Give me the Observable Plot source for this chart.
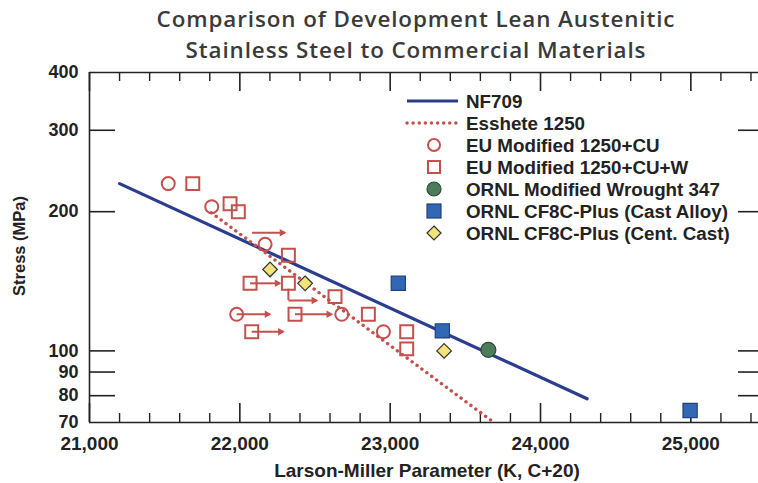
<!DOCTYPE html>
<html><head><meta charset="utf-8">
<script src="https://cdn.jsdelivr.net/npm/d3@7"></script>
<script src="https://cdn.jsdelivr.net/npm/@observablehq/plot@0.6"></script>
<style>body{margin:0;background:#fff;} svg{display:block;}</style>
</head><body><div id="chart"></div>
<script>
// ---- data ----
const titleLines = ["Comparison of Development Lean Austenitic", "Stainless Steel to Commercial Materials"];
const xLabel = "Larson-Miller Parameter (K, C+20)";
const yLabel = "Stress (MPa)";
const xTickLabels = [21000, 22000, 23000, 24000, 25000];
const xMinorTicks = [21200,21400,21600,21800,22200,22400,22600,22800,23200,23400,23600,23800,24200,24400,24600,24800,25200,25400];
const yTickLabels = [70, 80, 90, 100, 200, 300, 400];
const yInnerTicks = [80, 90, 100, 200, 300];

const nf709X = [21200, 24310];
const nf709Y = [230, 78.8];
const essheteX = [21810, 23690];
const essheteY = [199, 70];

const euCuX = [21524, 21813, 22168, 21979, 22678, 22955];
const euCuY = [230, 205, 170, 120, 120, 110];
const euCuWX = [21687, 21935, 21990, 22323, 22068, 22323, 22633, 22367, 22855, 22079, 23110, 23110];
const euCuWY = [230, 208, 200, 161, 140, 140, 131, 120, 120, 110, 110, 101];
const ornl347X = [23653];
const ornl347Y = [100.5];
const castX = [23054, 23347, 24995];
const castY = [140, 110.5, 74.3];
const centX = [22201, 22434, 23359];
const centY = [150, 140, 100];

// run-out arrows
const runX1 = [22081, 21979, 22068, 22367, 22079, 22323];
const runX2 = [22300, 22200, 22267, 22611, 22289, 22512];
const runY  = [180, 120, 140, 120, 110, 128.5];
// bent run-out leg (vertical part)
const bendX = [22323];
const bendY1 = [136];
const bendY2 = [128.5];

const legendLabels = ["NF709", "Esshete 1250", "EU Modified 1250+CU", "EU Modified 1250+CU+W",
  "ORNL Modified Wrought 347", "ORNL CF8C-Plus (Cast Alloy)", "ORNL CF8C-Plus (Cent. Cast)"];

// ---- styles ----
const BLUE = "#2b3d8e", RED = "#c4504e";
const FONT = "'Liberation Sans', Arial, sans-serif";
const TFONT = "'Open Sans', sans-serif";

const W = 758, H = 483, mT = 72, mB = 61, mL = 89, mR = 0;
const innerH = H - mT - mB, innerW = W - mL - mR;

const tbl = (xs, ys) => xs.map((x, i) => ({x, y: ys[i]}));
const runs = runX1.map((x1, i) => ({x1, x2: runX2[i], y: runY[i]}));
const bends = bendX.map((x, i) => ({x, y1: bendY1[i], y2: bendY2[i]}));

const plot = Plot.plot({
  width: W, height: H,
  marginTop: mT, marginBottom: mB, marginLeft: mL, marginRight: mR,
  style: {fontFamily: FONT, background: "#fff"},
  x: {domain: [21000, 25450]},
  y: {type: "log", domain: [70, 400]},
  marks: [
    Plot.ruleY([70, 400], {stroke: "#222", strokeWidth: 1.6}),
    Plot.ruleX([21000], {stroke: "#222", strokeWidth: 1.6}),
    Plot.tickX(xTickLabels, {x: d => d, insetTop: innerH - 19, stroke: "#222", strokeWidth: 1.6}),
    Plot.tickX(xTickLabels, {x: d => d, insetBottom: innerH - 19, stroke: "#222", strokeWidth: 1.6}),
    Plot.tickX(xMinorTicks, {x: d => d, insetTop: innerH - 9, stroke: "#222", strokeWidth: 1.4}),
    Plot.tickX(xMinorTicks, {x: d => d, insetBottom: innerH - 9, stroke: "#222", strokeWidth: 1.4}),
    Plot.tickY(yInnerTicks, {y: d => d, insetRight: innerW - 26, stroke: "#222", strokeWidth: 1.6}),
    Plot.tickY(yInnerTicks, {y: d => d, insetLeft: innerW - 20, stroke: "#222", strokeWidth: 1.6}),
    Plot.axisX(xTickLabels, {tickSize: 0, tickPadding: 14, tickFormat: d3.format(","), fontSize: 19, fontWeight: 700, fill: "#222", label: null}),
    Plot.axisY(yTickLabels, {tickSize: 0, tickPadding: 11, tickFormat: d => String(d), fontSize: 18, fontWeight: 700, fill: "#222", label: null}),
    Plot.line(tbl(nf709X, nf709Y), {x: "x", y: "y", stroke: BLUE, strokeWidth: 3.2}),
    Plot.line(tbl(essheteX, essheteY), {x: "x", y: "y", stroke: RED, strokeWidth: 3.4, strokeDasharray: "0.1 6", strokeLinecap: "round"}),
    Plot.ruleX(bends, {x: "x", y1: "y1", y2: "y2", stroke: RED, strokeWidth: 2}),
    Plot.link(runs, {x1: "x1", x2: "x2", y1: "y", y2: "y", stroke: RED, strokeWidth: 2}),
    Plot.dot(runs, {x: "x2", y: "y", symbol: "triangle2", rotate: 90, r: 3.6, fill: RED, dx: -3}),
    Plot.dot(tbl(euCuX, euCuY), {x: "x", y: "y", r: 6.5, stroke: RED, strokeWidth: 2, fill: "none"}),
    Plot.dot(tbl(euCuWX, euCuWY), {x: "x", y: "y", symbol: "square", r: 7.3, stroke: RED, strokeWidth: 2, fill: "none"}),
    Plot.dot(tbl(centX, centY), {x: "x", y: "y", symbol: "diamond2", r: 6.6, stroke: "#333", strokeWidth: 1.2, fill: "#f1e27a"}),
    Plot.dot(tbl(castX, castY), {x: "x", y: "y", symbol: "square", r: 8, stroke: "#23407a", strokeWidth: 1.2, fill: "#3068b6"}),
    Plot.dot(tbl(ornl347X, ornl347Y), {x: "x", y: "y", r: 7.5, stroke: "#2d4a36", strokeWidth: 1.2, fill: "#4d7c5b"})
  ]
});

document.getElementById("chart").appendChild(plot);
const svg = d3.select(plot);

// title
svg.append("g").selectAll("text").data(titleLines).join("text")
  .attr("x", 416).attr("y", (d, i) => 27 + i * 30.5)
  .attr("text-anchor", "middle")
  .attr("font-family", TFONT).attr("font-size", 22.4).attr("font-weight", 600)
  .attr("letter-spacing", 0.9)
  .attr("fill", "#3a3a3a").text(d => d);

// axis titles
svg.append("text").attr("x", 427).attr("y", 477).attr("text-anchor", "middle")
  .attr("font-family", FONT).attr("font-size", 19).attr("font-weight", 700).attr("fill", "#222").text(xLabel);
svg.append("text").attr("transform", "translate(25,246) rotate(-90)").attr("text-anchor", "middle")
  .attr("font-family", FONT).attr("font-size", 16.5).attr("font-weight", 700).attr("fill", "#222").text(yLabel);

// legend
const lg = svg.append("g").attr("font-family", FONT).attr("font-size", 18.8).attr("font-weight", 700).attr("text-anchor", "start");
const lx0 = 407, lx1 = 458, lcx = 434, ltx = 466, ly0 = 101, ldy = 22;
legendLabels.forEach((lab, i) => {
  const y = ly0 + i * ldy;
  if (i === 0) lg.append("line").attr("x1", lx0).attr("x2", lx1).attr("y1", y).attr("y2", y).attr("stroke", BLUE).attr("stroke-width", 3);
  if (i === 1) lg.append("line").attr("x1", lx0).attr("x2", lx1).attr("y1", y).attr("y2", y).attr("stroke", RED).attr("stroke-width", 3.4).attr("stroke-dasharray", "0.1 6").attr("stroke-linecap", "round");
  if (i === 2) lg.append("circle").attr("cx", lcx).attr("cy", y).attr("r", 6).attr("fill", "none").attr("stroke", RED).attr("stroke-width", 2);
  if (i === 3) lg.append("rect").attr("x", lcx - 6).attr("y", y - 6).attr("width", 12).attr("height", 12).attr("fill", "none").attr("stroke", RED).attr("stroke-width", 2);
  if (i === 4) lg.append("circle").attr("cx", lcx).attr("cy", y).attr("r", 7).attr("fill", "#4d7c5b").attr("stroke", "#2d4a36").attr("stroke-width", 1.2);
  if (i === 5) lg.append("rect").attr("x", lcx - 7).attr("y", y - 7).attr("width", 14).attr("height", 14).attr("fill", "#3068b6").attr("stroke", "#23407a").attr("stroke-width", 1.2);
  if (i === 6) lg.append("path").attr("d", `M${lcx},${y-7}L${lcx+7},${y}L${lcx},${y+7}L${lcx-7},${y}Z`).attr("fill", "#f1e27a").attr("stroke", "#333").attr("stroke-width", 1.2);
  lg.append("text").attr("x", ltx).attr("y", y).attr("dy", "0.35em").attr("fill", "#222").text(lab);
});
</script>
</body></html>
